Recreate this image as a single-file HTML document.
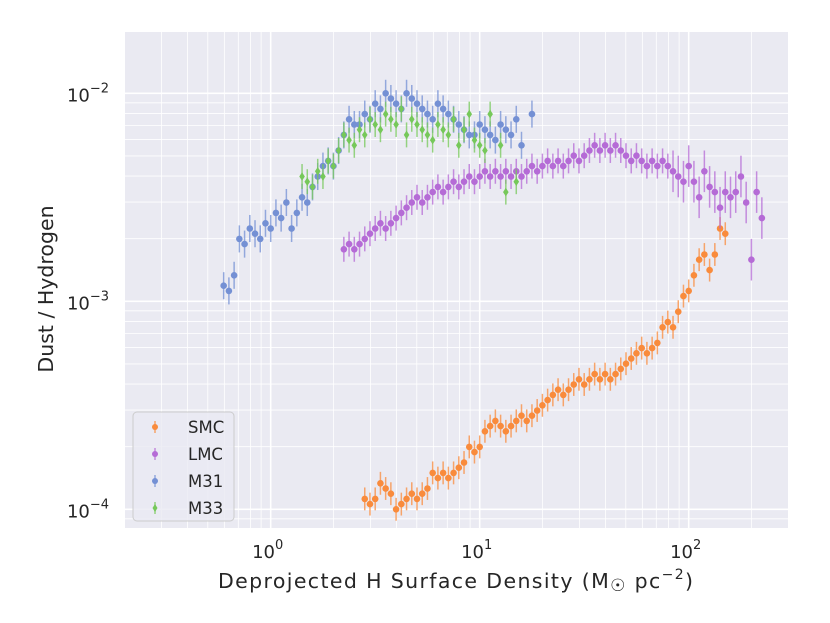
<!DOCTYPE html>
<html><head><meta charset="utf-8"><style>
html,body{margin:0;padding:0;background:#fff;}
svg{display:block;font-family:"DejaVu Sans","Liberation Sans",sans-serif;}
</style></head><body>
<svg id="chart" width="830" height="623" viewBox="0 0 830 623">
<rect x="125" y="32" width="663" height="496" fill="#eaeaf2"/>
<g id="grid"></g>
<g id="series"></g>
<g id="ticks"></g>
<text x="218" y="588" font-size="20.5" textLength="475" lengthAdjust="spacing" fill="#262626">Deprojected H Surface Density (M<tspan font-size="17" dy="3">☉</tspan><tspan dy="-3"> pc</tspan><tspan font-size="14" dy="-9">−2</tspan><tspan dy="9">)</tspan></text>
<text transform="translate(53,289) rotate(-90)" font-size="20.5" text-anchor="middle" fill="#262626">Dust / Hydrogen</text>
<g id="legend">
<rect x="133" y="412" width="101" height="109" rx="4" fill="#eaeaf2" fill-opacity="0.8" stroke="#cccccc" stroke-width="1"/>
</g>
</svg>
<script>
// ---- data (log10 values) ----
const smcLogDensity=[0.45,0.475,0.5,0.525,0.55,0.575,0.6,0.625,0.65,0.675,0.7,0.725,0.75,0.775,0.8,0.825,0.85,0.875,0.9,0.925,0.95,0.975,1.0,1.025,1.05,1.075,1.1,1.125,1.15,1.175,1.2,1.225,1.25,1.275,1.3,1.325,1.35,1.375,1.4,1.425,1.45,1.475,1.5,1.525,1.55,1.575,1.6,1.625,1.65,1.675,1.7,1.725,1.75,1.775,1.8,1.825,1.85,1.875,1.9,1.925,1.95,1.975,2.0,2.025,2.05,2.075,2.1,2.125,2.15,2.175];
const smcLogDust=[-3.95,-3.975,-3.95,-3.875,-3.9,-3.925,-4.0,-3.975,-3.95,-3.925,-3.95,-3.925,-3.9,-3.825,-3.85,-3.825,-3.85,-3.825,-3.8,-3.775,-3.7,-3.725,-3.7,-3.625,-3.6,-3.575,-3.6,-3.625,-3.6,-3.575,-3.55,-3.575,-3.55,-3.525,-3.5,-3.475,-3.45,-3.425,-3.45,-3.425,-3.4,-3.375,-3.4,-3.375,-3.35,-3.375,-3.35,-3.375,-3.35,-3.325,-3.3,-3.275,-3.25,-3.225,-3.25,-3.225,-3.2,-3.125,-3.1,-3.125,-3.05,-2.975,-2.95,-2.875,-2.8,-2.775,-2.85,-2.775,-2.65,-2.675];
const lmcLogDensity=[0.35,0.375,0.4,0.425,0.45,0.475,0.5,0.525,0.55,0.575,0.6,0.625,0.65,0.675,0.7,0.725,0.75,0.775,0.8,0.825,0.85,0.875,0.9,0.925,0.95,0.975,1.0,1.025,1.05,1.075,1.1,1.125,1.15,1.175,1.2,1.225,1.25,1.275,1.3,1.325,1.35,1.375,1.4,1.425,1.45,1.475,1.5,1.525,1.55,1.575,1.6,1.625,1.65,1.675,1.7,1.725,1.75,1.775,1.8,1.825,1.85,1.875,1.9,1.925,1.95,1.975,2.0,2.025,2.05,2.075,2.1,2.125,2.15,2.175,2.2,2.225,2.25,2.275,2.3,2.325,2.35];
const lmcLogDust=[-2.75,-2.725,-2.75,-2.725,-2.7,-2.675,-2.65,-2.625,-2.65,-2.625,-2.6,-2.575,-2.55,-2.525,-2.5,-2.525,-2.5,-2.475,-2.45,-2.475,-2.45,-2.425,-2.45,-2.425,-2.4,-2.425,-2.4,-2.375,-2.4,-2.375,-2.4,-2.375,-2.4,-2.375,-2.4,-2.375,-2.35,-2.375,-2.35,-2.325,-2.35,-2.325,-2.35,-2.325,-2.3,-2.325,-2.3,-2.275,-2.25,-2.275,-2.25,-2.275,-2.25,-2.275,-2.3,-2.325,-2.3,-2.325,-2.35,-2.325,-2.35,-2.325,-2.35,-2.375,-2.4,-2.425,-2.35,-2.425,-2.5,-2.375,-2.45,-2.475,-2.55,-2.475,-2.5,-2.475,-2.4,-2.525,-2.8,-2.475,-2.6];
const m31LogDensity=[-0.225,-0.2,-0.175,-0.15,-0.125,-0.1,-0.075,-0.05,-0.025,0.0,0.025,0.05,0.075,0.1,0.125,0.15,0.175,0.2,0.225,0.25,0.275,0.3,0.325,0.35,0.375,0.4,0.425,0.45,0.475,0.5,0.525,0.55,0.575,0.6,0.625,0.65,0.675,0.7,0.725,0.75,0.775,0.8,0.825,0.85,0.875,0.9,0.925,0.95,0.975,1.0,1.025,1.05,1.075,1.1,1.125,1.15,1.175,1.2,1.25];
const m31LogDust=[-2.925,-2.95,-2.875,-2.7,-2.725,-2.65,-2.675,-2.7,-2.625,-2.65,-2.575,-2.6,-2.525,-2.65,-2.575,-2.5,-2.525,-2.45,-2.4,-2.35,-2.325,-2.35,-2.275,-2.2,-2.125,-2.15,-2.15,-2.1,-2.125,-2.05,-2.075,-2.0,-2.025,-2.05,-2.075,-2.0,-2.025,-2.05,-2.075,-2.1,-2.125,-2.05,-2.075,-2.1,-2.125,-2.15,-2.175,-2.2,-2.2,-2.15,-2.175,-2.2,-2.225,-2.15,-2.175,-2.2,-2.125,-2.25,-2.1];
const m33LogDensity=[0.15,0.175,0.2,0.225,0.25,0.275,0.3,0.325,0.35,0.375,0.4,0.425,0.45,0.475,0.5,0.525,0.55,0.575,0.6,0.625,0.65,0.675,0.7,0.725,0.75,0.775,0.8,0.825,0.85,0.875,0.9,0.925,0.95,0.975,1.0,1.025,1.05,1.1,1.125,1.175];
const m33LogDust=[-2.4,-2.425,-2.45,-2.375,-2.4,-2.325,-2.35,-2.275,-2.2,-2.225,-2.25,-2.175,-2.2,-2.125,-2.15,-2.175,-2.1,-2.125,-2.15,-2.075,-2.2,-2.125,-2.15,-2.175,-2.2,-2.225,-2.15,-2.175,-2.2,-2.125,-2.25,-2.175,-2.1,-2.225,-2.25,-2.275,-2.1,-2.25,-2.475,-2.425];
const seriesNames=["SMC","LMC","M31","M33"];
const xTickExps=[0,1,2];
const yTickExps=[-2,-3,-4];

// ---- axes ----
const X0=270.7, XD=209, Y3=301.3, YD=208;
const L=125,R=788,T=32,B=528;
function xs(lx){return X0+XD*lx;}
function ys(ly){return Y3-(ly+3)*YD;}
const NS="http://www.w3.org/2000/svg";
function mk(tag,attrs,parent){const e=document.createElementNS(NS,tag);for(const k in attrs)e.setAttribute(k,attrs[k]);parent.appendChild(e);return e;}
const grid=document.getElementById('grid');
for(let d=-1;d<=2;d++){for(let m=1;m<=9;m++){const lx=d+Math.log10(m);const x=xs(lx);if(x<L||x>R)continue;
 const ln=mk('line',{x1:x,x2:x,y1:T,y2:B,stroke:'#fff','stroke-width':m===1?1.6:0.8},grid);
 
 }}
for(let d=-5;d<=-2;d++){for(let m=1;m<=9;m++){const ly=d+Math.log10(m);const y=ys(ly);if(y<T||y>B)continue;
 const ln=mk('line',{x1:L,x2:R,y1:y,y2:y,stroke:'#fff','stroke-width':m===1?1.6:0.8},grid);
 
 }}
const ticks=document.getElementById('ticks');
xTickExps.forEach(e=>{const t=mk('text',{x:xs(e)-3,y:558,'font-size':18,'text-anchor':'middle',fill:'#262626'},ticks);
 
 
 t.innerHTML='10<tspan font-size="13" dy="-9">'+e+'</tspan>';});
yTickExps.forEach(e=>{const t=mk('text',{x:88,y:ys(e)+8,'font-size':18,'text-anchor':'middle',fill:'#262626'},ticks);
 
 
 t.innerHTML='10<tspan font-size="13" dy="-9">−'+(-e)+'</tspan>';});

// ---- series ----
const seriesG=document.getElementById('series');
const colors={SMC:'#f98b3c',LMC:'#b56bd6',M31:'#7490d4',M33:'#76c85a'};
const errs={SMC:0.055,LMC:0.06,M31:0.065,M33:0.06};
function marker(cx,cy,name,g,r){
 if(name==='M33'){return mk('path',{d:`M${cx},${cy-r-1} L${cx+r-0.5},${cy} L${cx},${cy+r+1} L${cx-r+0.5},${cy} Z`,fill:colors[name]},g);}
 return mk('circle',{cx:cx,cy:cy,r:r,fill:colors[name]},g);
}
function drawSeries(name,lxArr,lyArr){
 const g=mk('g',{},seriesG);
 
 
 lxArr.forEach((lx,i)=>{const ly=lyArr[i];const x=xs(lx),y=ys(ly);
  let e=errs[name]; if(name==='LMC'&&lx>1.9)e=0.1;
  const b=mk('line',{x1:x,x2:x,y1:ys(ly+e),y2:ys(ly-e),stroke:colors[name],'stroke-width':1.5,'stroke-opacity':0.75},g);
  
  
  const m=marker(x,y,name,g,3.3);
  
  });
}
drawSeries('SMC',smcLogDensity,smcLogDust);
drawSeries('LMC',lmcLogDensity,lmcLogDust);
drawSeries('M31',m31LogDensity,m31LogDust);
drawSeries('M33',m33LogDensity,m33LogDust);

// ---- legend ----
const lg=document.getElementById('legend');
seriesNames.forEach((n,i)=>{const y=427+i*27;
 const g=mk('g',{},lg);
 
 
 mk('line',{x1:155,x2:155,y1:y-6,y2:y+6,stroke:colors[n],'stroke-width':1.5,'stroke-opacity':0.75},g);
 marker(155,y,n,g,3);
 const t=mk('text',{x:188,y:y+6,'font-size':16.5,fill:'#262626'},g);
 t.textContent=n;});
</script>
</body></html>
